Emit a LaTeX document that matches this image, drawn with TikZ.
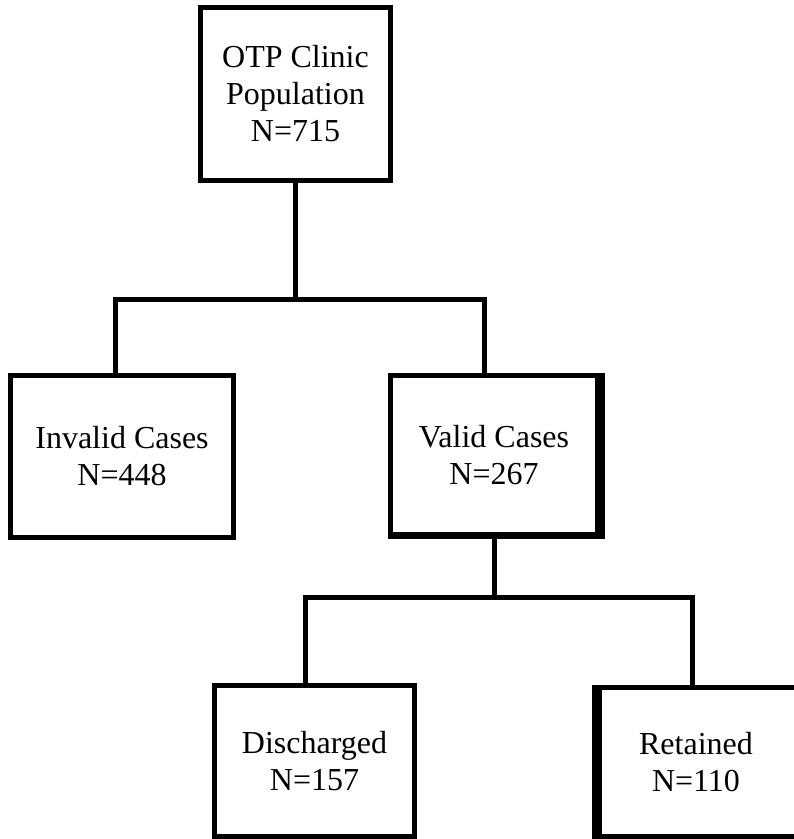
\documentclass[tikz,border=0pt]{standalone}
\usepackage{fontspec}
\setmainfont{Liberation Serif}
\begin{document}
\begin{tikzpicture}[x=1pt,y=-1pt,
  box/.style={draw,line width=5pt,rectangle,inner sep=0pt,align=center,
    font=\fontsize{32}{37}\selectfont},
  conn/.style={line width=5pt,line cap=rect}]
\useasboundingbox (0,0) rectangle (794,839);
\clip (0,0) rectangle (794,839);
\node[box,minimum width=190pt,minimum height=173pt] (top) at (295.5,94) {OTP Clinic\\Population\\N=715};
\node[box,minimum width=223pt,minimum height=162pt] (invalid) at (122,456.5) {Invalid Cases\\N=448};
\node[box,minimum width=207pt,minimum height=159pt] (valid) at (494,455) {Valid Cases\\N=267};
\node[box,minimum width=200pt,minimum height=151pt] (disch) at (314.5,761) {Discharged\\N=157};
\node[box,minimum width=205pt,minimum height=149pt] (ret) at (702,762) {};
\node[font=\fontsize{32}{37}\selectfont,align=center,inner sep=0pt] (rettext) at (696,762) {Retained\\N=110};
% thicker edges (anchors already lie on the outer edge)
\fill ([shift={(-1pt,0pt)}]valid.north east) rectangle ([shift={(5pt,-2pt)}]valid.south east);
\fill ([shift={(0pt,1pt)}]valid.south west) rectangle ([shift={(5pt,-2pt)}]valid.south east);
\fill ([shift={(-5pt,0pt)}]ret.north west) rectangle ([shift={(1pt,0pt)}]ret.south west);
% connectors
\coordinate (L1) at (115.5,299.5);
\coordinate (R1) at (484,299.5);
\coordinate (L2) at (305,597.5);
\coordinate (R2) at (692.5,597.5);
\draw[conn] (top.south) -- (top.south |- L1);
\draw[line width=5pt] (L1 |- invalid.north) -- (L1) -- (R1) -- (R1 |- valid.north);
\draw[conn] ([yshift=-2pt]valid.south) -- (valid.south |- L2);
\draw[line width=5pt] (L2 |- disch.north) -- (L2) -- (R2) -- (R2 |- ret.north);
\end{tikzpicture}
\end{document}
